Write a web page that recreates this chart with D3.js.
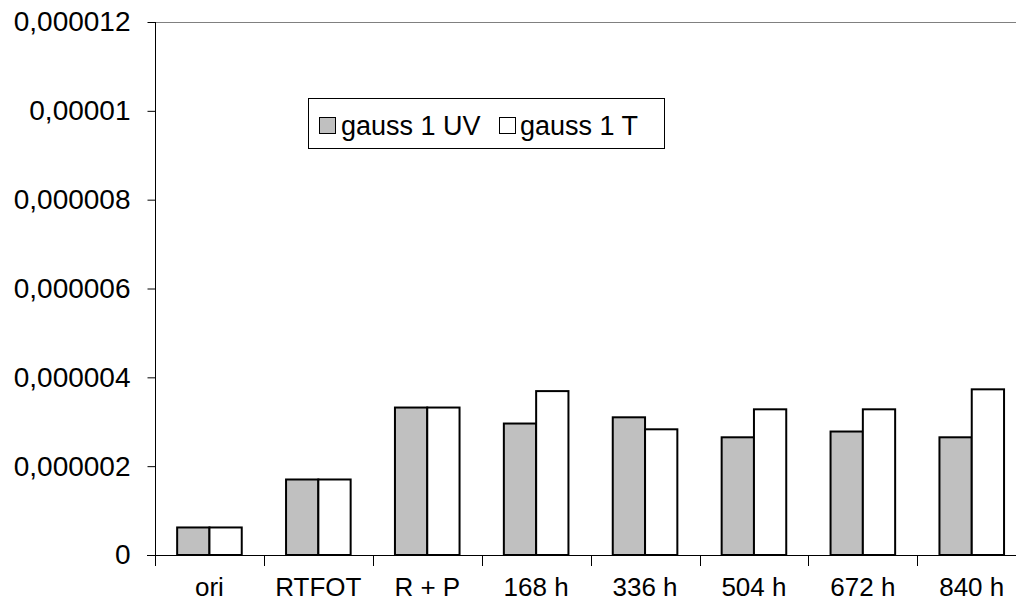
<!DOCTYPE html>
<html>
<head>
<meta charset="utf-8">
<script src="https://cdn.jsdelivr.net/npm/d3@7"></script>
<style>
  html, body { margin: 0; padding: 0; background: #fff; }
  svg { display: block; font-family: Arial, "Liberation Sans", sans-serif; }
</style>
</head>
<body>
<svg id="chart" width="1016" height="612"></svg>
<script>
// Categories and series
const categories = ["ori", "RTFOT", "R + P", "168 h", "336 h", "504 h", "672 h", "840 h"];
const seriesNames = ["gauss 1 UV", "gauss 1 T"];
const gaussUV = [0.62e-6, 1.70e-6, 3.32e-6, 2.96e-6, 3.10e-6, 2.65e-6, 2.78e-6, 2.65e-6];
const gaussT  = [0.62e-6, 1.70e-6, 3.32e-6, 3.69e-6, 2.83e-6, 3.28e-6, 3.28e-6, 3.73e-6];
const seriesColors = ["#c0c0c0", "#ffffff"];
const yTickValues = [0, 2e-6, 4e-6, 6e-6, 8e-6, 10e-6, 12e-6];
const yTickLabels = ["0", "0,000002", "0,000004", "0,000006", "0,000008", "0,00001", "0,000012"];

const svg = d3.select("#chart");
const plotLeft = 155, plotTop = 22, plotBottom = 555;
const catStep = 108.9;
const plotRight = plotLeft + catStep * categories.length;

const x = d3.scaleBand().domain(categories).range([plotLeft, plotRight]).padding(0);
const xs = d3.scaleBand().domain(seriesNames).range([0, x.bandwidth()]).paddingInner(0).paddingOuter(0.686);
const y = d3.scaleLinear().domain([0, 12e-6]).range([plotBottom, plotTop]);

const rows = categories.map((c, i) => ({ cat: c, vals: [gaussUV[i], gaussT[i]] }));

// Top border of the plot area
svg.append("line")
  .attr("x1", plotLeft).attr("x2", 1016)
  .attr("y1", y(12e-6) + 0.5).attr("y2", y(12e-6) + 0.5)
  .attr("stroke", "#808080").attr("stroke-width", 1);

// Bars
const groups = svg.append("g").selectAll("g").data(rows).join("g")
  .attr("transform", d => `translate(${x(d.cat)},0)`);
groups.selectAll("rect")
  .data(d => d.vals.map((v, k) => ({ name: seriesNames[k], v, k })))
  .join("rect")
  .attr("x", d => xs(d.name))
  .attr("y", d => y(d.v))
  .attr("width", xs.bandwidth())
  .attr("height", d => plotBottom - y(d.v))
  .attr("fill", d => seriesColors[d.k])
  .attr("stroke", "#000")
  .attr("stroke-width", 2);

// Y axis
const yAxis = d3.axisLeft(y)
  .tickValues(yTickValues)
  .tickFormat((d, i) => yTickLabels[i])
  .tickSize(8)
  .tickPadding(17);
const gy = svg.append("g").attr("transform", `translate(${plotLeft + 0.5},0)`).call(yAxis);
gy.select(".domain").attr("stroke", "#000").attr("d", `M0,${plotTop}V${plotBottom}`);
gy.selectAll(".tick line").attr("stroke", "#000");
gy.selectAll(".tick text")
  .attr("font-size", 28).attr("fill", "#000")
  .attr("font-family", "Arial, 'Liberation Sans', sans-serif");

// X axis with ticks between categories
const xAxisLine = svg.append("g");
xAxisLine.append("line")
  .attr("x1", plotLeft - 8).attr("x2", 1016)
  .attr("y1", plotBottom + 0.5).attr("y2", plotBottom + 0.5)
  .attr("stroke", "#000");
const boundaries = categories.map(c => x(c));
xAxisLine.selectAll("line.tk").data(boundaries).join("line")
  .attr("class", "tk")
  .attr("x1", d => Math.round(d) + 0.5).attr("x2", d => Math.round(d) + 0.5)
  .attr("y1", plotBottom).attr("y2", plotBottom + 11)
  .attr("stroke", "#000");
xAxisLine.selectAll("text").data(categories).join("text")
  .attr("x", d => x(d) + x.bandwidth() / 2)
  .attr("y", 596)
  .attr("text-anchor", "middle")
  .attr("font-size", 26)
  .attr("fill", "#000")
  .text(d => d);

// Legend
const lg = svg.append("g");
lg.append("rect")
  .attr("x", 308.5).attr("y", 98.5)
  .attr("width", 356).attr("height", 50)
  .attr("fill", "#fff").attr("stroke", "#000").attr("stroke-width", 1);
const legendItems = [
  { name: seriesNames[0], color: seriesColors[0], sx: 319, tx: 341 },
  { name: seriesNames[1], color: seriesColors[1], sx: 499, tx: 520 }
];
legendItems.forEach(it => {
  lg.append("rect")
    .attr("x", it.sx + 0.5).attr("y", 117.5)
    .attr("width", 16).attr("height", 16)
    .attr("fill", it.color).attr("stroke", "#000").attr("stroke-width", 1);
  lg.append("text")
    .attr("x", it.tx).attr("y", 135)
    .attr("font-size", 27).attr("fill", "#000")
    .text(it.name);
});
</script>
</body>
</html>
